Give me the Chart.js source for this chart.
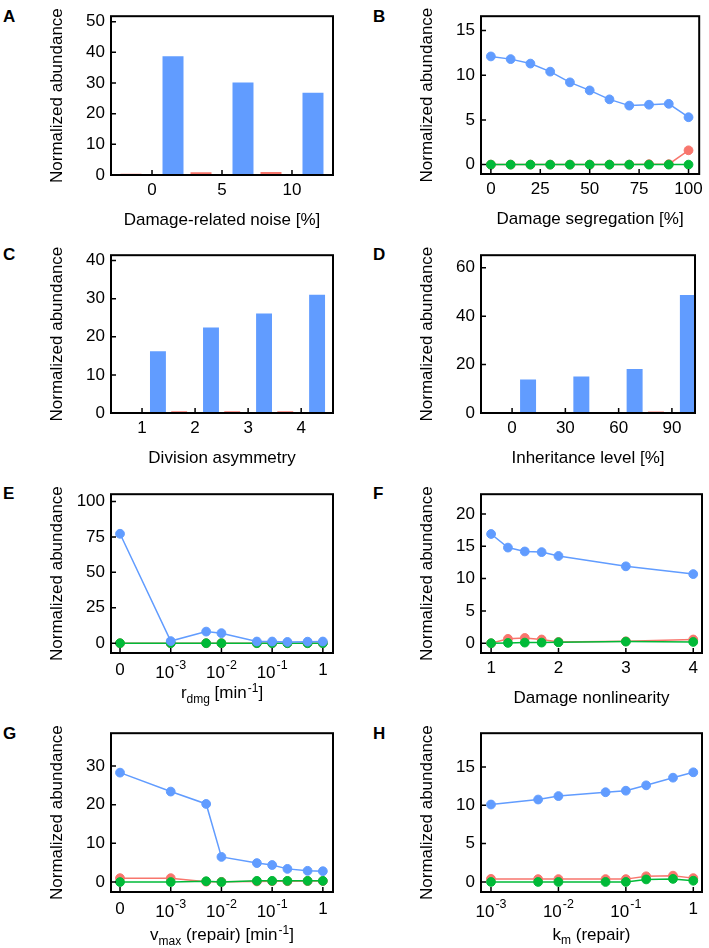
<!DOCTYPE html>
<html>
<head>
<meta charset="utf-8">
<script src="https://cdn.jsdelivr.net/npm/chart.js@4.4.0/dist/chart.umd.min.js"></script>
<style>
  body { margin: 0; background: #fff; width: 709px; height: 948px; position: relative; overflow: hidden;
         font-family: "Liberation Sans", Arial, sans-serif; }
  canvas { position: absolute; }
  .lbl { position: absolute; font-weight: bold; font-size: 17px; line-height: 17px; }
</style>
</head>
<body>
<div class="lbl" style="left:3px;top:8px">A</div>
<div class="lbl" style="left:373px;top:8px">B</div>
<div class="lbl" style="left:3px;top:246px">C</div>
<div class="lbl" style="left:373px;top:246px">D</div>
<div class="lbl" style="left:3px;top:485px">E</div>
<div class="lbl" style="left:373px;top:485px">F</div>
<div class="lbl" style="left:3px;top:725px">G</div>
<div class="lbl" style="left:373px;top:725px">H</div>

<canvas id="cA"></canvas><canvas id="cB"></canvas>
<canvas id="cC"></canvas><canvas id="cD"></canvas>
<canvas id="cE"></canvas><canvas id="cF"></canvas>
<canvas id="cG"></canvas><canvas id="cH"></canvas>

<script>
const FONT = '"Liberation Sans", Arial, Helvetica, sans-serif';
const RED = '#F8766D', GREEN = '#00BA38', BLUE = '#619CFF';

// A - damage-related noise
const noiseCats  = [0, 5, 10];
const noiseRed   = [0.4, 0.9, 1.0];
const noiseGreen = [0, 0, 0];
const noiseBlue  = [38.7, 30.2, 26.8];

// B - damage segregation
const segX     = [0, 10, 20, 30, 40, 50, 60, 70, 80, 90, 100];
const segBlue  = [12.1, 11.8, 11.3, 10.4, 9.2, 8.3, 7.3, 6.6, 6.7, 6.8, 5.3];
const segRed   = [0, 0, 0, 0, 0, 0, 0, 0, 0.05, 0.05, 1.6];
const segGreen = [0, 0, 0, 0, 0, 0, 0, 0, 0, 0, 0];

// C - division asymmetry
const asymCats  = [1, 2, 3, 4];
const asymRed   = [0.25, 0.45, 0.45, 0.45];
const asymGreen = [0, 0, 0, 0];
const asymBlue  = [16.2, 22.4, 26.1, 31.0];

// D - inheritance level
const inhCats  = [0, 30, 60, 90];
const inhRed   = [0.3, 0, 0, 0.6];
const inhGreen = [0, 0, 0, 0.15];
const inhBlue  = [13.8, 15.1, 18.2, 48.8];

// E - r_dmg
const rdmgX     = [0, 0.001, 0.005, 0.01, 0.05, 0.1, 0.2, 0.5, 1];
const rdmgBlue  = [77.2, 1.5, 8.2, 7.1, 1.2, 1.2, 0.9, 1.1, 1.2];
const rdmgRed   = [0, 0, 0, 0, 0, 0, 0, 0, 0];
const rdmgGreen = [0, 0, 0, 0, 0, 0, 0, 0, 0];

// F - damage nonlinearity
const nlX     = [1, 1.25, 1.5, 1.75, 2, 3, 4];
const nlBlue  = [16.9, 14.8, 14.2, 14.1, 13.5, 11.9, 10.7];
const nlRed   = [0, 0.68, 0.82, 0.58, 0.2, 0.3, 0.58];
const nlGreen = [0, 0.05, 0.1, 0.1, 0.15, 0.25, 0.2];

// G - vmax (repair)
const vmaxX     = [0, 0.001, 0.005, 0.01, 0.05, 0.1, 0.2, 0.5, 1];
const vmaxBlue  = [28.3, 23.4, 20.2, 6.5, 4.9, 4.4, 3.4, 2.9, 2.8];
const vmaxRed   = [1.0, 1.0, 0.1, 0.05, 0.15, 0.2, 0.2, 0.25, 0.25];
const vmaxGreen = [0, 0, 0.2, 0, 0.3, 0.3, 0.3, 0.3, 0.3];

// H - km (repair)
const kmX     = [0.001, 0.005, 0.01, 0.05, 0.1, 0.2, 0.5, 1];
const kmBlue  = [10.1, 10.75, 11.2, 11.7, 11.9, 12.6, 13.6, 14.3];
const kmRed   = [0.4, 0.37, 0.37, 0.37, 0.37, 0.74, 0.82, 0.5];
const kmGreen = [0, 0, 0, 0, 0, 0.33, 0.4, 0.16];

// tick values
const yTicksA = [0, 10, 20, 30, 40, 50];
const yTicksB = [0, 5, 10, 15];
const yTicksC = [0, 10, 20, 30, 40];
const yTicksD = [0, 20, 40, 60];
const yTicksE = [0, 25, 50, 75, 100];
const yTicksF = [0, 5, 10, 15, 20];
const yTicksG = [0, 10, 20, 30];
const yTicksH = [0, 5, 10, 15];
const xTicksB = [0, 25, 50, 75, 100];
const xTicksF = [1, 2, 3, 4];
const decadeTicks  = [0, 0.001, 0.01, 0.1, 1];
const decadeLabels = [[['0']], [['10'], ['-3', 'sup']], [['10'], ['-2', 'sup']], [['10'], ['-1', 'sup']], [['1']]];
const decadeTicksH  = [0.001, 0.01, 0.1, 1];
const decadeLabelsH = [[['10'], ['-3', 'sup']], [['10'], ['-2', 'sup']], [['10'], ['-1', 'sup']], [['1']]];

const ZERO_AT = 1e-4;   // where "0" sits on the log axes
const logx = v => v === 0 ? ZERO_AT : v;

Chart.defaults.font.family = FONT;
Chart.defaults.color = '#000';

// draws text runs with sub/superscripts, centred on cx, baseline at by
function drawRich(ctx, segs, cx, by, size, small, subDrop, supRise) {
  const fontOf = s => (s[1] ? small : size) + 'px ' + FONT;
  let total = 0;
  const ws = segs.map(s => { ctx.font = fontOf(s); const w = ctx.measureText(s[0]).width + (s[1] === 'sup' ? 1 : 0); total += w; return w; });
  let x = cx - total / 2;
  ctx.fillStyle = '#000';
  ctx.textAlign = 'left';
  ctx.textBaseline = 'alphabetic';
  segs.forEach((s, i) => {
    ctx.font = fontOf(s);
    let y = by;
    if (s[1] === 'sub') y += subDrop;
    if (s[1] === 'sup') { y -= supRise; x += 1; }
    ctx.fillText(s[0], x, y);
    x += ws[i] - (s[1] === 'sup' ? 1 : 0);
  });
}

const decor = {
  id: 'decor',
  afterDatasetsDraw(chart, args, o) {
    const {ctx, chartArea: a} = chart;
    const x = chart.scales.x, y = chart.scales.y;
    ctx.save();
    ctx.strokeStyle = '#000';
    ctx.lineWidth = 2;
    ctx.strokeRect(a.left, a.top, a.right - a.left, a.bottom - a.top);
    ctx.lineWidth = 1.5;
    ctx.beginPath();
    x.ticks.forEach((t, i) => { const p = x.getPixelForTick(i); ctx.moveTo(p, a.bottom); ctx.lineTo(p, a.bottom - 5); });
    y.ticks.forEach((t, i) => { const p = y.getPixelForTick(i); ctx.moveTo(a.left, p); ctx.lineTo(a.left + 5, p); });
    ctx.stroke();
    if (o.tickText) {
      o.tickText.forEach((segs, i) => {
        const p = x.getPixelForTick(i);
        drawRich(ctx, segs, p, a.bottom + (segs.length > 1 ? 25 : 21.5), 17, 12.5, 0, 9);
      });
    }
    drawRich(ctx, o.title, (a.left + a.right) / 2, a.bottom + o.titleBase, 17, 12, 4.5, 6.5);
    ctx.restore();
  }
};

const PL = 72, PR = 6, PT = 6, PB = 60;

function makePanel(id, box, p) {
  const cv = document.getElementById(id);
  const w = box.r - box.l + PL + PR, h = box.b - box.t + PT + PB;
  cv.width = w; cv.height = h;
  cv.style.left = (box.l - PL) + 'px';
  cv.style.top = (box.t - PT) + 'px';

  const isBar = p.type === 'bar';
  const mk = (vals, col) => ({
    data: p.xs.map((xv, i) => ({x: p.log ? logx(xv) : xv, y: vals[i]})),
    backgroundColor: col,
    borderColor: col,
    borderWidth: isBar ? 0 : 1.5,
    pointBackgroundColor: col,
    pointBorderColor: col,
    pointBorderWidth: 1,
    pointRadius: 4.4,
    tension: 0
  });
  // bars: red | green | blue side by side; lines: blue on top
  const datasets = isBar
    ? [mk(p.red, RED), mk(p.green, GREEN), mk(p.blue, BLUE)]
    : [mk(p.blue, BLUE), mk(p.green, GREEN), mk(p.red, RED)];

  new Chart(cv, {
    type: p.type,
    data: {datasets},
    options: {
      responsive: false,
      animation: false,
      layout: {padding: {left: 0, right: PR, top: PT, bottom: 0}},
      datasets: {bar: {categoryPercentage: 0.9, barPercentage: 1}},
      plugins: {
        legend: {display: false},
        tooltip: {enabled: false},
        decor: {title: p.title, titleBase: p.titleBase, tickText: p.tickText}
      },
      scales: {
        x: {
          type: p.log ? 'logarithmic' : 'linear',
          min: p.xmin, max: p.xmax, bounds: 'data', offset: false,
          afterBuildTicks: s => { s.ticks = p.xticks.map(v => ({value: p.log ? logx(v) : v})); },
          afterFit: s => { s.height = PB; },
          grid: {display: false, drawTicks: false},
          border: {display: false},
          ticks: {display: !p.log, font: {size: 17}, color: '#000', padding: 5,
                  callback: (v, i) => p.xlabels ? p.xlabels[i] : String(v)}
        },
        y: {
          type: 'linear', min: p.ymin, max: p.ymax, bounds: 'data',
          afterBuildTicks: s => { s.ticks = p.yticks.map(v => ({value: v})); },
          afterFit: s => { s.width = PL; },
          grid: {display: false, drawTicks: false},
          border: {display: false},
          ticks: {font: {size: 17}, color: '#000', padding: 6, callback: v => String(v)},
          title: {display: true, text: 'Normalized abundance', font: {size: 17}, color: '#000',
                  padding: {top: 8, bottom: 0}}
        }
      }
    },
    plugins: [decor]
  });
}

makePanel('cA', {l: 111, t: 6, r: 333, b: 175}, {
  type: 'bar', xs: noiseCats, red: noiseRed, green: noiseGreen, blue: noiseBlue,
  xmin: -2.93, xmax: 12.93, xticks: noiseCats, ymin: 0, ymax: 51.8, yticks: yTicksA,
  title: [['Damage-related noise [%]']], titleBase: 49.6
});
makePanel('cB', {l: 481, t: 6, r: 702, b: 174}, {
  type: 'line', xs: segX, red: segRed, green: segGreen, blue: segBlue,
  xmin: -5, xmax: 105.4, xticks: xTicksB, ymin: -1.05, ymax: 16.6, yticks: yTicksB,
  title: [['Damage segregation [%]']], titleBase: 49.6
});
makePanel('cC', {l: 111, t: 245, r: 333, b: 413}, {
  type: 'bar', xs: asymCats, red: asymRed, green: asymGreen, blue: asymBlue,
  xmin: 0.415, xmax: 4.6, xticks: asymCats, ymin: 0, ymax: 41.4, yticks: yTicksC,
  title: [['Division asymmetry']], titleBase: 49.6
});
makePanel('cD', {l: 481, t: 245, r: 695, b: 413}, {
  type: 'bar', xs: inhCats, red: inhRed, green: inhGreen, blue: inhBlue,
  xmin: -17.5, xmax: 103, xticks: inhCats, ymin: 0, ymax: 65.2, yticks: yTicksD,
  title: [['Inheritance level [%]']], titleBase: 49.6
});
makePanel('cE', {l: 111, t: 484, r: 333, b: 653}, {
  type: 'line', log: true, xs: rdmgX, red: rdmgRed, green: rdmgGreen, blue: rdmgBlue,
  xmin: 6.64e-5, xmax: 1.585, xticks: decadeTicks, tickText: decadeLabels,
  ymin: -6.9, ymax: 105.1, yticks: yTicksE,
  title: [['r'], ['dmg', 'sub'], [' [min'], ['-1', 'sup'], [']']], titleBase: 45.1
});
makePanel('cF', {l: 481, t: 484, r: 702, b: 653}, {
  type: 'line', xs: nlX, red: nlRed, green: nlGreen, blue: nlBlue,
  xmin: 0.85, xmax: 4.13, xticks: xTicksF, ymin: -1.51, ymax: 23.06, yticks: yTicksF,
  title: [['Damage nonlinearity']], titleBase: 49.6
});
makePanel('cG', {l: 111, t: 723, r: 333, b: 892}, {
  type: 'line', log: true, xs: vmaxX, red: vmaxRed, green: vmaxGreen, blue: vmaxBlue,
  xmin: 6.64e-5, xmax: 1.585, xticks: decadeTicks, tickText: decadeLabels,
  ymin: -2.58, ymax: 38.5, yticks: yTicksG,
  title: [['v'], ['max', 'sub'], [' (repair) [min'], ['-1', 'sup'], [']']], titleBase: 48.1
});
makePanel('cH', {l: 481, t: 723, r: 702, b: 892}, {
  type: 'line', log: true, xs: kmX, red: kmRed, green: kmGreen, blue: kmBlue,
  xmin: 7.11e-4, xmax: 1.346, xticks: decadeTicksH, tickText: decadeLabelsH,
  ymin: -1.31, ymax: 19.4, yticks: yTicksH,
  title: [['k'], ['m', 'sub'], [' (repair)']], titleBase: 47.6
});
</script>
</body>
</html>
